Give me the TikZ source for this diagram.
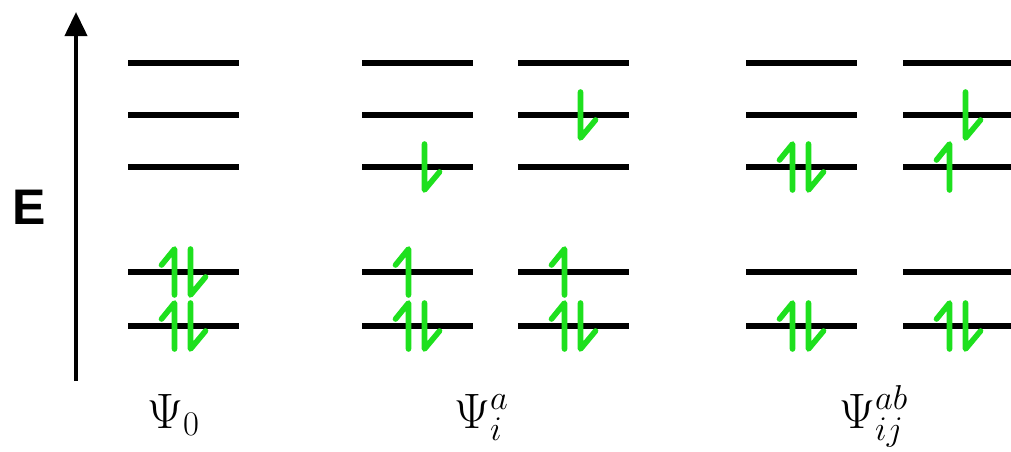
\documentclass[tikz,border=0pt]{standalone}
\usepackage{fontspec}
\setsansfont{Liberation Sans}
\usepackage{tikz}
\usetikzlibrary{arrows.meta}
\definecolor{egreen}{HTML}{1EE01E}

% one electron: spin up / spin down on a level (x = centre of the level)
\newcommand{\spinup}[2]{\draw[electron] ({#1-9},{#2+23}) -- ({#1-9},{#2-23}) -- ++(-13,16);}
\newcommand{\spindown}[2]{\draw[electron] ({#1+7},{#2-23}) -- ({#1+7},{#2+23}) -- ++(15,-18);}
\newcommand{\spinpair}[2]{\spinup{#1}{#2}\spindown{#1}{#2}}

\begin{document}
\begin{tikzpicture}[x=0.5pt, y=-0.5pt,
  level/.style={black, line width=2.8pt},
  electron/.style={egreen, line width=2.8pt, line cap=round, line join=round},
  axis/.style={black, line width=2pt, -{Triangle[width=11pt, length=12pt]}},
  statelabel/.style={font=\fontsize{24}{28}\selectfont, anchor=base west, inner sep=0pt}]
\useasboundingbox (0,0) rectangle (1011,451);
\clip (0,0) rectangle (1011,451);

% energy axis
\coordinate (axisbottom) at (76,381);
\coordinate (axistop) at (76,12);
\draw[axis] (axisbottom) -- (axistop);
\node[font=\fontsize{25}{30}\selectfont\sffamily\bfseries] (energy) at (29,207) {E};

% orbital levels
\foreach \x in {128,362,518,746,903}
  \foreach \y in {63,115,167,272,326}
    \draw[level] (\x,\y) -- ++(111,0);

% ground state
\spinpair{183.5}{272}
\spinpair{183.5}{326}

% single excitations
\spinpair{417.5}{326}
\spinup{417.5}{272}
\spindown{417.5}{167}
\spinpair{573.5}{326}
\spinup{573.5}{272}
\spindown{573.5}{115}

% double excitations
\spinpair{801.5}{326}
\spinpair{801.5}{167}
\spinpair{958.5}{326}
\spinup{958.5}{167}
\spindown{958.5}{115}

% state labels
\node[statelabel] (psizero) at (147,428) {$\Psi_0$};
\node[statelabel] (psisingle) at (454,428) {$\Psi_i^a$};
\node[statelabel] (psidouble) at (839,428) {$\Psi_{ij}^{ab}$};
\end{tikzpicture}
\end{document}
